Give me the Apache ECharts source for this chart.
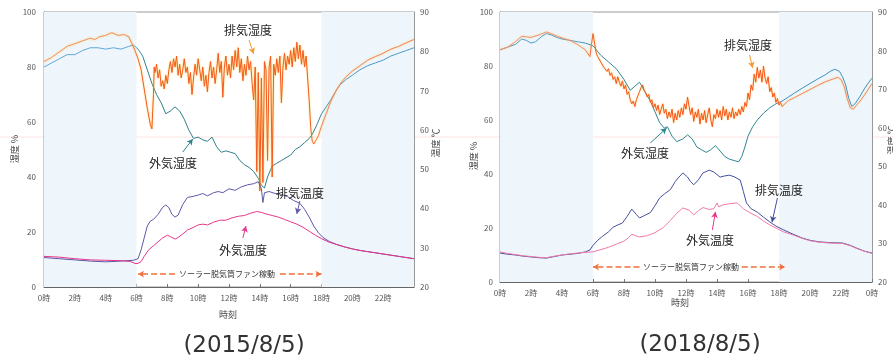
<!DOCTYPE html>
<html><head><meta charset="utf-8">
<script src="https://cdn.jsdelivr.net/npm/echarts@6/dist/echarts.min.js"></script>
<style>html,body{margin:0;padding:0;background:#fff}#c{width:893px;height:361px}</style>
</head><body><div id="c"></div><script>
// ---------- data (hour, value) ----------
const xTicks = [0,2,4,6,8,10,12,14,16,18,20,22,24];
const humTicks = [0,20,40,60,80,100];
const tempTicks = [20,30,40,50,60,70,80,90];

// 2015/8/5  外気湿度 (%)
const hum15Out = [[0,80],[0.5,81.5],[1,83],[1.5,84.5],[2,84.5],[2.5,86],[3,87],[3.5,87],[4,86.5],[4.5,87],[5,86.5],[5.5,87.5],[5.8,88],[6.1,86.5],[6.4,84],[6.7,79],[7.0,74],[7.3,70],[7.6,67],[7.9,63],[8.2,64],[8.5,65.5],[8.8,64],[9.1,61],[9.4,57],[9.7,54],[10.0,54.5],[10.3,53.5],[10.6,53],[10.9,54.5],[11.2,51],[11.5,49],[11.8,49.5],[12.1,49],[12.4,48.5],[12.7,46],[13.0,44.5],[13.3,43.5],[13.6,42],[13.9,39.5],[14.1,37],[14.3,36],[14.5,40],[14.8,44],[15.1,45],[15.4,46],[15.7,47],[16.0,48],[16.3,50],[16.6,51],[16.9,52.5],[17.2,54],[17.4,55.5],[17.7,59],[18.0,63],[18.3,65.5],[18.6,68],[18.9,71],[19.2,73.5],[19.6,75.5],[20.0,77],[20.5,79],[21.0,80.5],[21.5,81.5],[22.0,82.5],[22.5,84],[23.0,85],[23.5,86],[24,87]];
// 2015/8/5  排気湿度 (%)
const hum15Exh = [[0,82],[0.5,83.5],[1,85.5],[1.5,87.5],[2,88.5],[2.5,89.5],[3,90.5],[3.3,90],[3.6,91],[4,91.5],[4.4,92.5],[4.8,91.5],[5.2,91.8],[5.5,91],[5.7,88.5],[5.9,86],[6.1,83],[6.3,79],[6.5,72],[6.7,65],[6.9,59],[7.0,57.5],[7.1,70],[7.15,80],
[7.2,78],[7.3,81],[7.4,76],[7.5,79],[7.6,73],[7.7,75],[7.8,72],[7.9,77],[8.0,74],[8.1,79],[8.2,82],[8.3,78],[8.4,83],[8.5,80],[8.6,84],[8.7,77],[8.8,81],[8.9,76],[9.0,79],[9.1,83],[9.2,78],[9.3,80],[9.4,74],[9.5,78],[9.6,70],[9.7,76],[9.8,81],[9.9,77],[10.0,83],[10.1,79],[10.2,75],[10.3,80],[10.4,73],[10.5,77],[10.6,71],[10.7,78],[10.8,82],[10.9,76],[11.0,80],[11.1,74],[11.2,79],[11.3,85],[11.4,78],[11.5,82],[11.6,69],[11.7,80],[11.8,84],[11.9,77],[12.0,81],[12.1,76],[12.2,84],[12.3,79],[12.4,86],[12.5,80],[12.6,87],[12.7,78],[12.8,83],[12.9,75],[13.0,81],[13.1,77],[13.2,84],[13.3,79],[13.4,82],[13.5,74],[13.6,68],[13.7,80],[13.8,42],[13.9,78],[14.0,35],[14.1,76],[14.2,38],[14.3,82],[14.4,79],[14.5,46],[14.6,80],[14.7,84],[14.8,40],[14.9,81],[15.0,77],[15.1,83],[15.2,78],[15.3,84],[15.4,67],[15.5,80],[15.6,85],[15.7,79],[15.8,84],[15.9,81],[16.0,86],[16.1,80],[16.2,87],[16.3,82],[16.4,89],[16.5,83],[16.6,88],[16.7,81],[16.8,86],[16.9,80],[17.0,84],[17.1,76],[17.2,68],[17.3,58],[17.4,53],[17.5,52],
[17.6,53],[17.8,55],[18.0,58.5],[18.3,63],[18.6,67.5],[19.0,72],[19.3,74.5],[19.6,76.5],[20.0,78.5],[20.5,80.5],[21.0,82.5],[21.5,83.8],[22.0,85],[22.5,86.5],[23.0,87.5],[23.5,88.8],[24,90]];
// 2015/8/5  排気温度 (°C)
const temp15Exh = [[0,27.5],[1,27.2],[2,26.9],[3,26.6],[4,26.4],[5,26.6],[5.8,26.8],[6.1,27.2],[6.3,29.5],[6.5,32.5],[6.7,35.5],[6.9,36.8],[7.1,37.2],[7.4,38.5],[7.7,40.3],[7.9,40.9],[8.1,40.2],[8.3,38.5],[8.5,37.8],[8.7,38.3],[9.0,41],[9.3,42.8],[9.6,43],[10.0,43.4],[10.3,43.8],[10.6,43.2],[11.0,44],[11.3,44.3],[11.6,44],[12.0,45],[12.4,44.6],[12.8,45.5],[13.2,46],[13.6,46.3],[13.9,46.8],[14.1,45],[14.2,41.5],[14.3,44],[14.6,44.3],[15.0,43.8],[15.4,43.6],[15.8,43],[16.2,42],[16.6,41.3],[16.9,39.8],[17.2,37.8],[17.5,35.5],[17.8,33.8],[18.1,32.6],[18.5,31.6],[19.0,30.8],[19.5,30.2],[20,29.7],[20.5,29.3],[21,29],[21.5,28.7],[22,28.4],[22.5,28.1],[23,27.8],[23.5,27.5],[24,27.2]];
// 2015/8/5  外気温度 (°C)
const temp15Out = [[0,27.8],[1,27.6],[2,27.2],[3,26.9],[4,26.8],[5,26.7],[5.6,26.5],[5.9,26],[6.1,26],[6.3,26.5],[6.5,27.8],[6.8,29.5],[7.1,30.5],[7.4,31.5],[7.7,32.5],[8.0,33.2],[8.2,32.8],[8.5,32.2],[8.7,32.6],[9.0,33.5],[9.3,34.5],[9.6,35],[10.0,35.8],[10.3,36],[10.6,35.8],[11.0,36.5],[11.4,37],[11.8,37],[12.2,37.6],[12.6,38],[13.0,38.2],[13.4,38.8],[13.8,39.2],[14.1,39],[14.4,38.6],[14.8,38.2],[15.2,37.8],[15.6,37.2],[16.0,36.6],[16.4,36],[16.8,35.2],[17.2,34.2],[17.6,33.2],[18.0,32.3],[18.5,31.4],[19.0,30.8],[19.5,30.2],[20,29.7],[20.5,29.3],[21,29],[21.5,28.7],[22,28.4],[22.5,28.1],[23,27.8],[23.5,27.5],[24,27.2]];

// 2018/8/5  外気湿度 (%)
const hum18Out = [[0,86],[0.5,87],[1,88],[1.4,90],[1.7,89.5],[2.0,88.5],[2.3,89],[2.7,91],[3.0,92],[3.3,91.5],[3.7,90.5],[4.0,90],[4.5,89.5],[5.0,89],[5.5,88.5],[6.0,87.5],[6.5,84],[7.0,81.5],[7.5,79],[8.0,75],[8.4,71],[8.7,72.5],[9.0,74],[9.3,71],[9.7,67],[10.0,63],[10.3,59],[10.6,57],[10.8,57.5],[11.1,54],[11.4,52],[11.8,53],[12.1,54.5],[12.4,53],[12.7,50],[13.0,49],[13.3,48],[13.6,49],[13.9,50.5],[14.2,48.5],[14.5,46.5],[14.8,45.5],[15.1,45],[15.4,44.5],[15.6,46.5],[15.8,50],[16.0,54],[16.3,57.5],[16.6,60],[17.0,62.5],[17.4,64.5],[17.8,66],[18.2,67],[18.6,68.5],[19.0,70],[19.5,71.8],[20.0,73.5],[20.5,75.2],[21.0,76.8],[21.3,78],[21.6,78.8],[21.9,78],[22.1,76],[22.3,73],[22.5,68],[22.7,65],[22.9,66],[23.2,68.5],[23.5,71.5],[23.8,74],[24,75.5]];
// 2018/8/5  排気湿度 (%)
const hum18Exh = [[0,86],[0.5,87],[1.0,89],[1.4,91],[1.7,90.8],[2.0,90.6],[2.5,91.5],[3.0,92.6],[3.3,92],[3.7,91],[4.0,90.4],[4.5,89.5],[5.0,88],[5.5,86],[5.8,83.5],[5.9,88],
[6.0,92],[6.1,88.5],[6.2,85],[6.3,83.5],[6.4,84],[6.5,81.5],[6.6,82],[6.7,79.5],[6.8,80],[6.9,78],[7.0,79],[7.1,76.5],[7.2,77.5],[7.3,75],[7.4,76],[7.5,73.5],[7.6,76],[7.7,74],[7.8,72.5],[7.9,74.5],[8.0,71.5],[8.1,73],[8.2,69.5],[8.3,70.5],[8.4,67.5],[8.5,66],[8.6,67],[8.7,65],[8.8,67.5],[8.9,69],[9.0,70.5],[9.1,72],[9.2,73],[9.3,71],[9.4,70],[9.5,68.5],[9.6,69.5],[9.7,66.5],[9.8,67.5],[9.9,64.5],[10.0,66],[10.1,63.5],[10.2,65.5],[10.3,62],[10.4,64],[10.5,66],[10.6,62.5],[10.7,64],[10.8,60.5],[10.9,63],[11.0,61],[11.1,64],[11.2,59],[11.3,62.5],[11.4,60],[11.5,63.5],[11.6,61],[11.7,64.5],[11.8,62],[11.9,66],[12.0,64],[12.1,68.5],[12.2,65],[12.3,62],[12.4,64.5],[12.5,59.5],[12.6,63],[12.7,61],[12.8,64],[12.9,58.5],[13.0,62.5],[13.1,60],[13.2,63.5],[13.3,59],[13.4,62],[13.5,64.5],[13.6,60],[13.7,57.5],[13.8,62],[13.9,60.5],[14.0,64],[14.1,61],[14.2,63.5],[14.3,60],[14.4,65],[14.5,61.5],[14.6,64],[14.7,60],[14.8,63],[14.9,61],[15.0,64.5],[15.1,60.5],[15.2,63],[15.3,61.5],[15.4,64],[15.5,62],[15.6,65],[15.7,63],[15.8,66.5],[15.9,65],[16.0,70],[16.1,67.5],[16.2,73],[16.3,71],[16.4,77],[16.5,74],[16.6,79.5],[16.7,75.5],[16.8,78.5],[16.9,74],[17.0,80],[17.1,75.5],[17.2,73.5],[17.3,76],[17.4,70.5],[17.5,72],[17.6,68.5],[17.7,70],[17.8,66.5],[17.9,68],[18.0,65.5],[18.1,66.5],[18.2,65],
[18.6,67.2],[19.0,68.3],[19.5,69.8],[20.0,71.3],[20.5,72.8],[21.0,74.2],[21.5,75.2],[21.8,75.8],[22.0,75],[22.2,72.5],[22.4,68],[22.6,64.5],[22.8,64],[23.0,65.5],[23.3,67.5],[23.6,70],[24,73.5]];
// 2018/8/5  排気温度 (°C)
const temp18Exh = [[0,27.5],[0.5,27.2],[1,27],[1.5,26.7],[2,26.5],[2.5,26.3],[3,26.2],[3.5,26.6],[4,27],[4.5,27.2],[5,27.4],[5.5,27.8],[5.8,28.3],[6.0,29.5],[6.3,30.8],[6.6,31.8],[7.0,33],[7.3,34.2],[7.6,34.8],[7.9,35.3],[8.2,37],[8.5,38.9],[8.8,37.5],[9.0,36.6],[9.3,37.2],[9.7,38],[10.0,39.8],[10.3,41.8],[10.6,42.8],[11.0,44],[11.3,46],[11.5,47],[11.8,48.3],[12.1,47.2],[12.3,46],[12.5,45.2],[12.8,46.5],[13.1,48.3],[13.5,49],[13.8,48.5],[14.2,47.2],[14.5,47.5],[14.8,47.7],[15.1,47.3],[15.5,46.4],[15.7,43.5],[15.9,40.5],[16.2,39],[16.6,38.1],[17.0,36.8],[17.4,35.6],[17.8,34.5],[18.3,33.5],[18.9,32.4],[19.5,31.4],[20.0,30.8],[20.6,30.4],[21.3,30.2],[22.1,30.1],[22.6,29.5],[23.0,28.8],[23.5,28],[24,27.5]];
// 2018/8/5  外気温度 (°C)
const temp18Out = [[0,27.8],[0.5,27.4],[1,27.1],[1.5,26.8],[2,26.6],[2.5,26.4],[3,26.3],[3.5,26.7],[4,27],[4.5,27.3],[5,27.5],[5.5,27.7],[6.0,27.8],[6.5,28.4],[7.0,29],[7.5,29.8],[8.0,30.6],[8.3,31.5],[8.5,32.4],[8.8,31.9],[9.0,31.7],[9.5,32],[10.0,32.8],[10.5,34],[11.0,36],[11.4,37.8],[11.8,39.2],[12.2,38.6],[12.5,37.4],[12.8,38.5],[13.1,39.3],[13.5,38.8],[13.8,39],[14.0,40.5],[14.1,39.5],[14.4,40],[14.8,40.3],[15.3,40.5],[15.7,39],[16.1,38],[16.6,37],[17.0,35.8],[17.4,34.8],[17.8,34],[18.3,33],[18.9,32.2],[19.5,31.3],[20.0,30.7],[20.6,30.3],[21.3,30.1],[22.1,30],[22.6,29.4],[23.0,28.7],[23.5,28],[24,27.4]];

// ---------- chart ----------
const FONT = '"Noto Sans CJK JP", "Noto Sans", sans-serif';
const chart = echarts.init(document.getElementById('c'), null, {renderer:'canvas'});
function grad(stops){ return new echarts.graphic.LinearGradient(0,0,1,0, stops.map(s=>({offset:s[0],color:s[1]}))); }

function xAx(gi, last){
  return {gridIndex:gi, type:'value', min:0, max:24, interval:2,
    axisLine:{show:true, lineStyle:{color:'#666', width:1}},
    axisTick:{show:true, inside:true, length:3, lineStyle:{color:'#777'}},
    axisLabel:{fontSize:8, color:'#555', margin:7, fontFamily:FONT, showMaxLabel:last, showMinLabel:true,
      formatter:v=> (v%24)+'時'},
    splitLine:{show:false}};
}
function yAx(gi, pos, min, max, iv, m){
  return {gridIndex:gi, type:'value', position:pos, min:min, max:max, interval:iv,
    axisLine:{show:true, lineStyle:{color: pos==='left'?'#666':'#999', width:1}},
    axisTick:{show:false},
    axisLabel:{fontSize:8, color:'#555', margin:m, fontFamily:FONT},
    splitLine:{show:false}};
}
const night = {silent:true, itemStyle:{color:'#eef6fc'}, data:[[{xAxis:0},{xAxis:6}],[{xAxis:18},{xAxis:24}]]};
function arrows(list){
  return {silent:true, symbol:['none','arrow'], symbolSize:[5,6], animation:false, label:{show:false},
    data:list.map(a=>[{coord:a.from, lineStyle:{color:a.color, width:a.w||1, type:a.type||'solid'}, symbolSize:a.s||5},{coord:a.to}])};
}
function line(name, data, xi, yi, color, extra){
  return Object.assign({name:name, type:'line', xAxisIndex:xi, yAxisIndex:yi, data:data, showSymbol:false, symbol:'none',
    lineStyle:{color:color, width:1}, animation:false, z:3}, extra||{});
}

const orangeArrow = '#f0703c';
const option = {
  animation:false,
  grid:[
    {left:44, top:12, width:370, height:275, show:true, borderColor:'#9a9a9a', borderWidth:1},
    {left:500, top:12, width:372, height:270, show:true, borderColor:'#9a9a9a', borderWidth:1}
  ],
  xAxis:[xAx(0,false), xAx(1,true)],
  yAxis:[yAx(0,'left',0,100,20,8), yAx(0,'right',20,90,10,6), yAx(1,'left',0,100,20,7), yAx(1,'right',20,90,10,6)],
  series:[
    line('外気湿度', hum15Out, 0, 0, grad([[0,'#5fa8d8'],[0.23,'#5fa8d8'],[0.28,'#2f7f8a'],[0.72,'#2f7f8a'],[0.78,'#4a98c8'],[1,'#4a98c8']]),
      {markArea:night, z:2, markLine:arrows([
        {from:[9.0,49.1], to:[9.65,53.8], color:'#2f7f8a'},
        {from:[8.5,4.7], to:[6.1,4.7], color:orangeArrow, w:1.5, type:'dashed', s:7},
        {from:[15.3,4.7], to:[18.0,4.7], color:orangeArrow, w:1.5, type:'dashed', s:7}
      ])}),
    line('排気湿度', hum15Exh, 0, 0, '#f35a22',
      {lineStyle:{color:grad([[0,'#f3906f'],[0.22,'#f3906f'],[0.27,'#f35a22'],[0.71,'#f35a22'],[0.75,'#f3846a'],[1,'#f3846a']]), width:1, shadowColor:'rgba(255,190,0,0.7)', shadowBlur:2},
       markLine:arrows([{from:[13.3,89.8], to:[13.6,84.8], color:'#f39a30'}])}),
    line('排気温度', temp15Exh, 0, 1, '#5b58a8',
      {markLine:arrows([{from:[16.6,41.9], to:[16.4,38.6], color:'#5b58a8'}])}),
    line('外気温度', temp15Out, 0, 1, '#e8358a',
      {markLine:arrows([{from:[12.9,32.5], to:[13.1,35.5], color:'#e8358a'}])}),

    line('外気湿度', hum18Out, 1, 2, grad([[0,'#4d9ac8'],[0.22,'#4d9ac8'],[0.27,'#2e8690'],[0.7,'#2e8690'],[0.76,'#3b8fbf'],[1,'#3b8fbf']]),
      {markArea:night, z:2, markLine:arrows([
        {from:[9.7,51.5], to:[10.75,57], color:'#2e8690'},
        {from:[9.0,5.6], to:[6.0,5.6], color:orangeArrow, w:1.5, type:'dashed', s:7},
        {from:[15.6,5.6], to:[18.4,5.6], color:orangeArrow, w:1.5, type:'dashed', s:7}
      ])}),
    line('排気湿度', hum18Exh, 1, 2, '#f7541e',
      {lineStyle:{color:grad([[0,'#f3907a'],[0.23,'#f3907a'],[0.26,'#f7541e'],[0.74,'#f7541e'],[0.77,'#f08a72'],[1,'#f08a72']]), width:1, shadowColor:'rgba(255,180,0,0.6)', shadowBlur:2},
       markLine:arrows([{from:[16.1,84.1], to:[16.3,79.3], color:'#f39a30'}])}),
    line('排気温度', temp18Exh, 1, 3, '#44509c',
      {markLine:arrows([{from:[17.9,41.8], to:[17.55,35.5], color:'#44509c'}])}),
    line('外気温度', temp18Out, 1, 3, '#f07aa8',
      {markLine:arrows([{from:[13.7,33.5], to:[13.9,38.2], color:'#e8358a'}])})
  ],
  graphic:[
    {type:'line', z:0, silent:true, shape:{x1:0,y1:137,x2:893,y2:137}, style:{stroke:'rgba(240,160,160,0.3)', lineWidth:1}},
    ...[
      ['排気湿度',248,30],['外気湿度',173,163],['排気温度',300,193],['外気温度',243,250],
      ['排気湿度',748,45],['外気湿度',645,153],['排気温度',779,190],['外気温度',710,240]
    ].map(t=>({type:'text', z:10, silent:true, style:{text:t[0], x:t[1], y:t[2], align:'center', verticalAlign:'middle', fill:'#222', fontSize:12, fontFamily:FONT}})),
    {type:'text', z:10, style:{text:'ソーラー脱気筒ファン稼動', x:227, y:274, align:'center', verticalAlign:'middle', fill:'#333', fontSize:8, fontFamily:FONT}},
    {type:'text', z:10, style:{text:'ソーラー脱気筒ファン稼動', x:691, y:267, align:'center', verticalAlign:'middle', fill:'#333', fontSize:8, fontFamily:FONT}},
    {type:'text', x:228, y:315, style:{text:'時刻', align:'center', verticalAlign:'middle', fill:'#444', fontSize:9, fontFamily:FONT}},
    {type:'text', x:680, y:303, style:{text:'時刻', align:'center', verticalAlign:'middle', fill:'#444', fontSize:9, fontFamily:FONT}},
    {type:'text', x:15, y:149, rotation:Math.PI/2, style:{text:'湿度 %', align:'center', verticalAlign:'middle', fill:'#444', fontSize:9, fontFamily:FONT}},
    {type:'text', x:474, y:156, rotation:Math.PI/2, style:{text:'湿度 %', align:'center', verticalAlign:'middle', fill:'#444', fontSize:9, fontFamily:FONT}},
    {type:'text', x:436, y:143, rotation:Math.PI/2, style:{text:'温度 ℃', align:'center', verticalAlign:'middle', fill:'#444', fontSize:9, fontFamily:FONT}},
    {type:'text', x:892, y:140, rotation:Math.PI/2, style:{text:'温度 ℃', align:'center', verticalAlign:'middle', fill:'#444', fontSize:9, fontFamily:FONT}},
    {type:'text', x:244, y:346, style:{text:'(2015/8/5)', align:'center', verticalAlign:'middle', fill:'#333', fontSize:23, fontFamily:'"DejaVu Sans", sans-serif'}},
    {type:'text', x:700, y:345, style:{text:'(2018/8/5)', align:'center', verticalAlign:'middle', fill:'#333', fontSize:23, fontFamily:'"DejaVu Sans", sans-serif'}}
  ]
};
chart.setOption(option);
</script></body></html>
